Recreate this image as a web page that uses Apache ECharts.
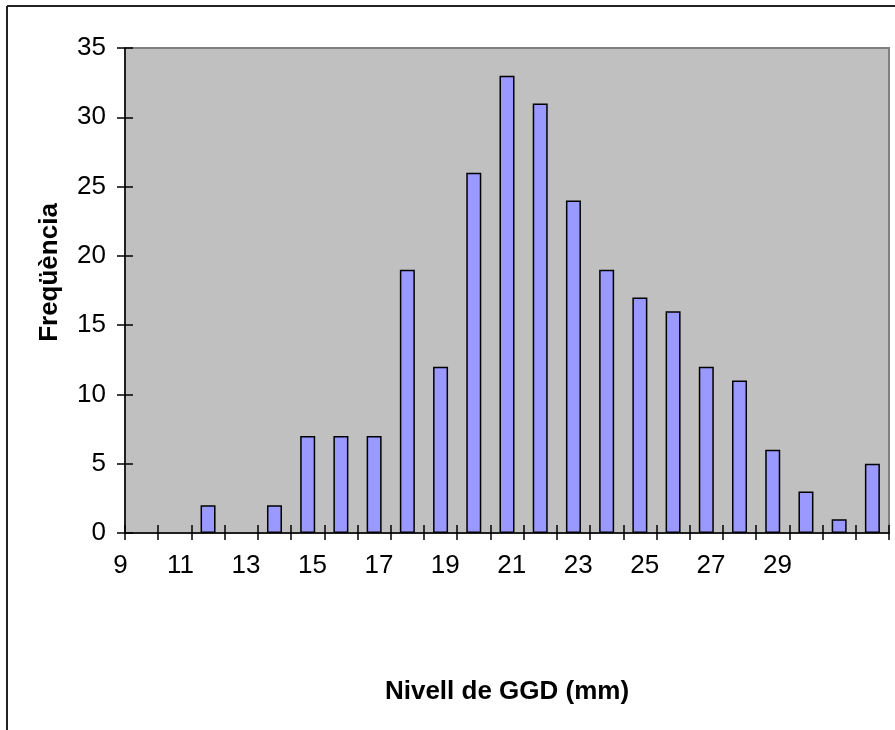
<!DOCTYPE html>
<html>
<head>
<meta charset="utf-8">
<title>Nivell de GGD</title>
<script src="https://cdn.jsdelivr.net/npm/echarts@6/dist/echarts.min.js"></script>
<style>
    html, body { margin: 0; padding: 0; background: #fff; }
    #echart { width: 895px; height: 730px; }
</style>
</head>
<body>
<div id="echart"></div>
<script>
// dades del grafic
var categories = ['9', '10', '11', '12', '13', '14', '15', '16', '17', '18', '19', '20',
    '21', '22', '23', '24', '25', '26', '27', '28', '29', '30', '31'];
var frequencies = [0, 0, 2, 0, 2, 7, 7, 7, 19, 12, 26, 33, 31, 24, 19, 17, 16, 12, 11, 6, 3, 1, 5];
var xTickLabels = ['9', '11', '13', '15', '17', '19', '21', '23', '25', '27', '29'];
var yTicks = [0, 5, 10, 15, 20, 25, 30, 35];

var font = '"Liberation Sans", Arial, sans-serif';
var myChart = echarts.init(document.getElementById('echart'));

// les barres buides no es dibuixen
var barData = frequencies.map(function (v) { return v === 0 ? '-' : v; });

// marques interiors: franges estretes amb splitLine
var innerLine = { show: true, interval: 0, lineStyle: { color: '#000', width: 1.5 } };

var option = {
    backgroundColor: '#ffffff',
    animation: false,
    graphic: [
        { type: 'line', shape: { x1: 7, y1: 6, x2: 895, y2: 6 }, style: { stroke: '#222', lineWidth: 2 } },
        { type: 'line', shape: { x1: 7, y1: 6, x2: 7, y2: 730 }, style: { stroke: '#222', lineWidth: 2 } }
    ],
    grid: [
        {
            left: 125,
            right: 6,
            top: 48,
            bottom: 197,
            show: true,
            backgroundColor: '#c0c0c0',
            borderColor: '#808080',
            borderWidth: 2
        },
        { left: 125, right: 6, top: 525, bottom: 197 },
        { left: 125, width: 8, top: 48, bottom: 197 }
    ],
    xAxis: [
        {
            type: 'category',
            gridIndex: 0,
            data: categories,
            name: 'Nivell de GGD (mm)',
            nameLocation: 'middle',
            nameGap: 146,
            nameTextStyle: { fontFamily: font, fontSize: 26, fontWeight: 'bold', color: '#000' },
            axisLine: { show: true, lineStyle: { color: '#000', width: 1.5 } },
            axisTick: { show: true, interval: 0, length: 7, lineStyle: { color: '#000', width: 1.5 } },
            axisLabel: {
                interval: 0,
                margin: 20,
                align: 'right',
                padding: [0, 14, 0, 0],
                fontFamily: font,
                fontSize: 26,
                color: '#000',
                formatter: function (v) {
                    return xTickLabels.indexOf(v) >= 0 ? v : '';
                }
            },
            splitLine: { show: false }
        },
        {
            type: 'category',
            gridIndex: 1,
            data: categories,
            axisLine: { show: false },
            axisTick: { show: false },
            axisLabel: { show: false },
            splitLine: innerLine
        },
        {
            type: 'value',
            gridIndex: 2,
            show: false
        }
    ],
    yAxis: [
        {
            type: 'value',
            gridIndex: 0,
            min: yTicks[0],
            max: yTicks[yTicks.length - 1],
            interval: 5,
            name: 'Freqüència',
            nameLocation: 'middle',
            nameGap: 62,
            nameTextStyle: { fontFamily: font, fontSize: 26, fontWeight: 'bold', color: '#000', padding: [0, 0, 0, 36] },
            axisLine: { show: true, lineStyle: { color: '#000', width: 1.5 } },
            axisTick: { show: true, length: 8, lineStyle: { color: '#000', width: 1.5 } },
            axisLabel: { margin: 19, fontFamily: font, fontSize: 26, color: '#000' },
            splitLine: { show: false }
        },
        {
            type: 'value',
            gridIndex: 1,
            show: false
        },
        {
            type: 'value',
            gridIndex: 2,
            min: yTicks[0],
            max: yTicks[yTicks.length - 1],
            interval: 5,
            axisLine: { show: false },
            axisTick: { show: false },
            axisLabel: { show: false },
            splitLine: { show: true, lineStyle: { color: '#000', width: 1.5 } }
        }
    ],
    series: [
        {
            name: 'Freqüència',
            type: 'bar',
            xAxisIndex: 0,
            yAxisIndex: 0,
            data: barData,
            barWidth: 15,
            itemStyle: { color: '#9999ff', borderColor: '#000', borderWidth: 1.5 }
        }
    ]
};
myChart.setOption(option);
</script>
</body>
</html>
